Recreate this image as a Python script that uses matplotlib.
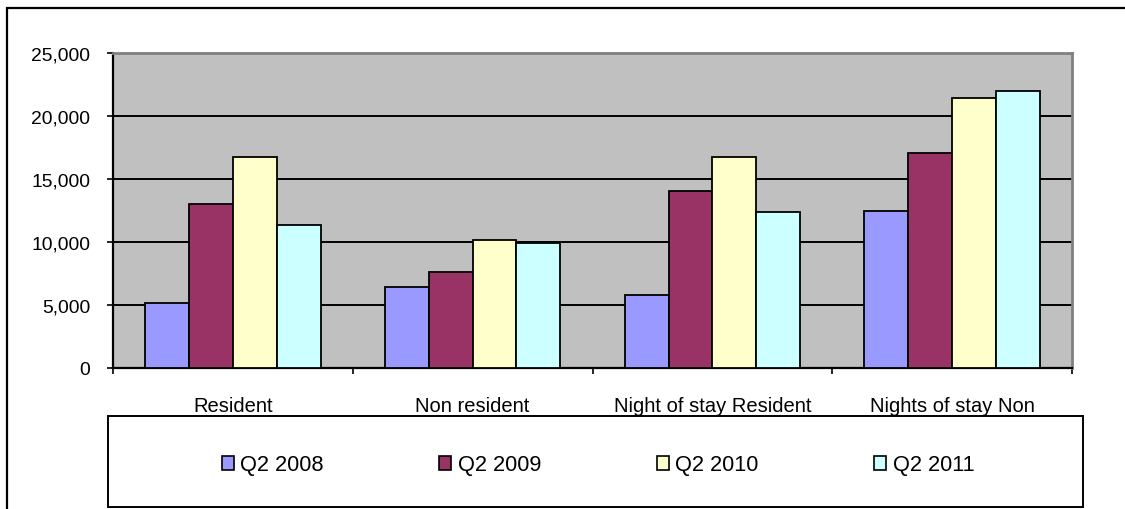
import matplotlib
matplotlib.use("Agg")
from matplotlib import pyplot as plt
from matplotlib.patches import Rectangle, Patch
from matplotlib.ticker import FuncFormatter, FixedLocator
import numpy as np

plt.rcParams['font.family'] = ['Liberation Sans', 'DejaVu Sans']

# Data
categories = ["Resident", "Non resident", "Night of stay Resident", "Nights of stay Non"]
series_names = ["Q2 2008", "Q2 2009", "Q2 2010", "Q2 2011"]
q2_2008 = [5150, 6450, 5800, 12450]
q2_2009 = [13050, 7650, 14050, 17050]
q2_2010 = [16750, 10150, 16750, 21400]
q2_2011 = [11350, 9900, 12400, 22000]
series_values = [q2_2008, q2_2009, q2_2010, q2_2011]
colors = ["#9999FF", "#993366", "#FFFFCC", "#CCFFFF"]

W, H = 1125, 510
fig = plt.figure(figsize=(W / 100, H / 100), dpi=100)

# outer chart frame (right and bottom edges run off the picture)
fig.patches.append(Rectangle((7 / W, -0.05), 1.2, (H - 9) / H + 0.05,
                             transform=fig.transFigure, fill=False,
                             edgecolor="black", linewidth=1.6, zorder=-2))

ax = fig.add_axes([113 / W, (H - 369) / H, (1072 - 113) / W, (369 - 54) / H])
ax.set_facecolor("#C0C0C0")

x = np.arange(len(categories))
bw = 0.183
for i, vals in enumerate(series_values):
    ax.bar(x + (i - 1.5) * bw, vals, width=bw, color=colors[i],
           edgecolor="black", linewidth=1.3, zorder=3)

ax.set_xlim(-0.5, len(categories) - 0.5)
ax.set_ylim(0, 25000)
ax.set_yticks(np.arange(0, 25001, 5000))
ax.yaxis.set_major_formatter(FuncFormatter(lambda v, p: f"{int(v):,}"))
ax.grid(axis="y", color="black", linewidth=1.4, zorder=1)

# category boundaries as ticks, labels centred under groups
ax.xaxis.set_major_locator(FixedLocator(np.arange(-0.5, len(categories), 1.0)))
ax.xaxis.set_minor_locator(FixedLocator(x))
ax.set_xticklabels([])
ax.set_xticklabels(categories, minor=True)
ax.tick_params(axis="x", which="major", direction="out", length=4.5, width=1.2, color="black")
ax.tick_params(axis="x", which="minor", length=0, pad=20.5, labelsize=14.5)
ax.tick_params(axis="y", direction="out", length=4.5, width=1.2, pad=12, labelsize=13.9)

ax.spines["left"].set_color("black")
ax.spines["left"].set_linewidth(1.6)
ax.spines["bottom"].set_color("black")
ax.spines["bottom"].set_linewidth(1.6)
ax.spines["top"].set_color("#808080")
ax.spines["top"].set_linewidth(2)
ax.spines["right"].set_color("#808080")
ax.spines["right"].set_linewidth(2)

# legend box (drawn under the axes so category labels stay on top)
fig.patches.append(Rectangle((108 / W, (H - 508) / H), (1083 - 108) / W, (508 - 417) / H,
                             transform=fig.transFigure, facecolor="white",
                             edgecolor="black", linewidth=1.4, zorder=-1))
handles = [Patch(facecolor=c, edgecolor="black", linewidth=1.2) for c in colors]
fig.legend(handles, series_names, loc="center", ncol=4,
           bbox_to_anchor=(598 / W, (H - 466) / H), frameon=False,
           fontsize=15.7, handlelength=0.55, handleheight=0.65,
           handletextpad=0.3, columnspacing=5.3)

fig.savefig("out.png", dpi=100)
